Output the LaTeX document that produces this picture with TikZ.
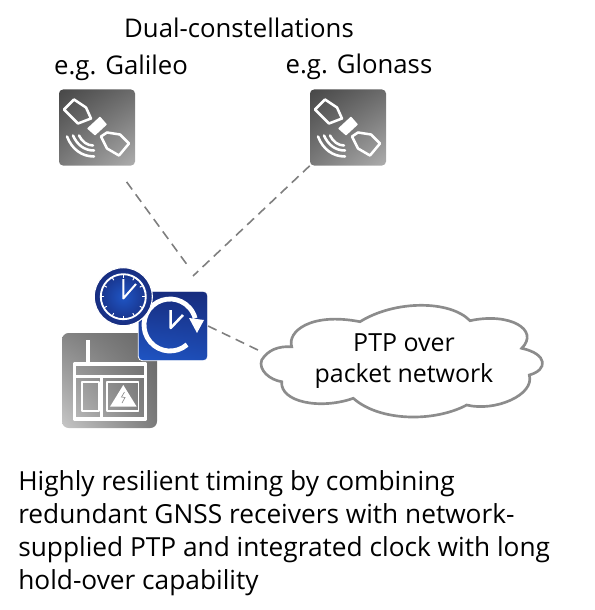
\documentclass[tikz,border=0pt]{standalone}
\usepackage{xcolor}
\usepackage{fontspec}
\setmainfont{Open Sans}
\usetikzlibrary{arrows.meta,positioning,calc,shadings}
\definecolor{linkgray}{HTML}{7F7F7F}
\definecolor{cloudgray}{HTML}{8C8C8C}
\definecolor{bluedark}{HTML}{172C7E}
\definecolor{bluelight}{HTML}{1F55C4}

\begin{document}
\begin{tikzpicture}[
  x=0.75pt, y=-0.75pt,
  satbox/.style={rounded corners=3pt, minimum size=57pt, inner sep=0pt,
                 lower left=black!52, lower right=black!32,
                 upper left=black!72, upper right=black!58},
  rxbox/.style={rounded corners=5pt, minimum width=71.25pt, minimum height=71.25pt, inner sep=0pt,
                lower left=black!22, lower right=black!52,
                upper left=black!48, upper right=black!60},
  holdbox/.style={draw=white, line width=0.6pt, rounded corners=3pt, minimum size=52pt, inner sep=0pt,
                  lower left=bluelight, lower right=bluelight!80!bluedark,
                  upper left=bluedark, upper right=bluedark},
  clockface/.style={circle, draw=white, line width=0.8pt, minimum size=43.5pt, inner sep=0pt,
                    inner color=bluelight, outer color=bluedark},
  link/.style={draw=linkgray, line width=1.2pt, dash pattern=on 7pt off 4.5pt},
  icon/.style={draw=white, line width=1.9pt, line join=round},
  lbl/.style={font=\fontsize{19.3}{24}\selectfont, inner sep=0pt},
  sat/.pic={
    \fill[white, rounded corners=0.5pt] (-10,1)--(3,-11)--(10,-3)--(-2,8)--cycle;
    \draw[icon] (-33,-18)--(-23,-28)--(-11,-20)--(-6,-9)--(-19,-4)--cycle;
    \draw[icon] (4,9)--(10,5)--(23,7)--(32,16)--(22,28)--(10,21)--cycle;
    \draw[icon, line cap=round] (-30,9) .. controls (-25,22) and (-15,29) .. (-3,29);
    \draw[icon, line cap=round] (-24,8) .. controls (-20,17) and (-13,23) .. (-3,23);
    \draw[icon, line cap=round] (-18,8) .. controls (-15,14) and (-10,18) .. (-4,18);
  }
]
\useasboundingbox (0,0) rectangle (595,610);

\node[lbl] (title) at (239,28) {Dual-constellations};
\node[lbl] (galileo) at (121,68) {e.g. Galileo};
\node[lbl] (glonass) at (359,67) {e.g. Glonass};

\node[satbox] (sat1) at (97,127.5) {};
\node[satbox] (sat2) at (348,127.5) {};
\pic at (sat1) {sat};
\pic at (sat2) {sat};

\node[rxbox] (rx) at (109.5,380.5) {};
\draw[icon, line width=2.3pt] (74.3,364) rectangle (145.7,419);
\draw[icon, line width=2.3pt] (88,340)--(88,364);
\draw[icon] (74.3,376.7)--(145.7,376.7);
\draw[icon] (101.7,376.7)--(101.7,419);
\draw[icon, line width=1.2pt] (81.7,381.7) rectangle (99,410.7);
\draw[icon, line width=1.2pt] (106.7,381.7) rectangle (138.3,410.7);
\fill[white] (110,406.7)--(123.3,385)--(136.7,406.7)--cycle;
\draw[black!45, line width=0.5pt] (124.5,392)--(121.5,397)--(125,397.5)--(122,403);

\node[holdbox] (hold) at (173,326) {};
\draw[white, line width=3.6pt] ($(170,325)+(49:26)$) arc[start angle=49, end angle=345, radius=26];
\fill[white] (189,318)--(204,320)--(197,333)--cycle;
\draw[white, line width=1.9pt, line join=round] (170.7,310)--(170.7,328)--(183,315);

\node[clockface] (clock) at (123.3,296.7) {};
\draw[white, line width=1.4pt] (clock) circle[radius=22.5];
\foreach \a in {0,30,...,330}
  \draw[white, line width=0.7pt] ($(clock)+(\a:19)$)--($(clock)+(\a:22)$);
\draw[white, line width=1.5pt, line join=round] (123.3,279)--(123.3,298.5)--(136,284);

\node[inner sep=0pt, align=center, font=\fontsize{18.7}{23.25}\selectfont] (cloud) at (404,361) {PTP over\\packet network};
\draw[cloudgray, line width=2pt]
  (261.7,360) .. controls (268,350) and (278,346) .. (291.7,346.7)
  .. controls (287,332) and (310,312) .. (360,321.7)
  .. controls (395,300) and (450,300) .. (470,320.7)
  .. controls (510,312) and (540,330) .. (521.7,348.3)
  .. controls (548,354) and (548,370) .. (529.3,375)
  .. controls (535,395) and (495,412) .. (466.7,405)
  .. controls (435,422) and (380,422) .. (353.3,398.3)
  .. controls (320,410) and (280,402) .. (281.7,381.7)
  .. controls (270,380) and (258,370) .. (261.7,360) -- cycle;
\coordinate (cloudW) at (262,352);
\coordinate (hub1) at (188,266);
\coordinate (hub2) at (193,276);

\draw[link, shorten <=15pt] (sat1.-65)--(hub1);
\draw[link] (sat2.south west)--(hub2);
\draw[link] (hold.east)--(cloudW);

\node[lbl, anchor=west, align=left, font=\fontsize{19.7}{24.75}\selectfont] (caption) at (18,533)
  {Highly resilient timing by combining\\redundant GNSS receivers with network-\\supplied PTP and integrated clock with long\\hold-over capability};
\end{tikzpicture}
\end{document}
